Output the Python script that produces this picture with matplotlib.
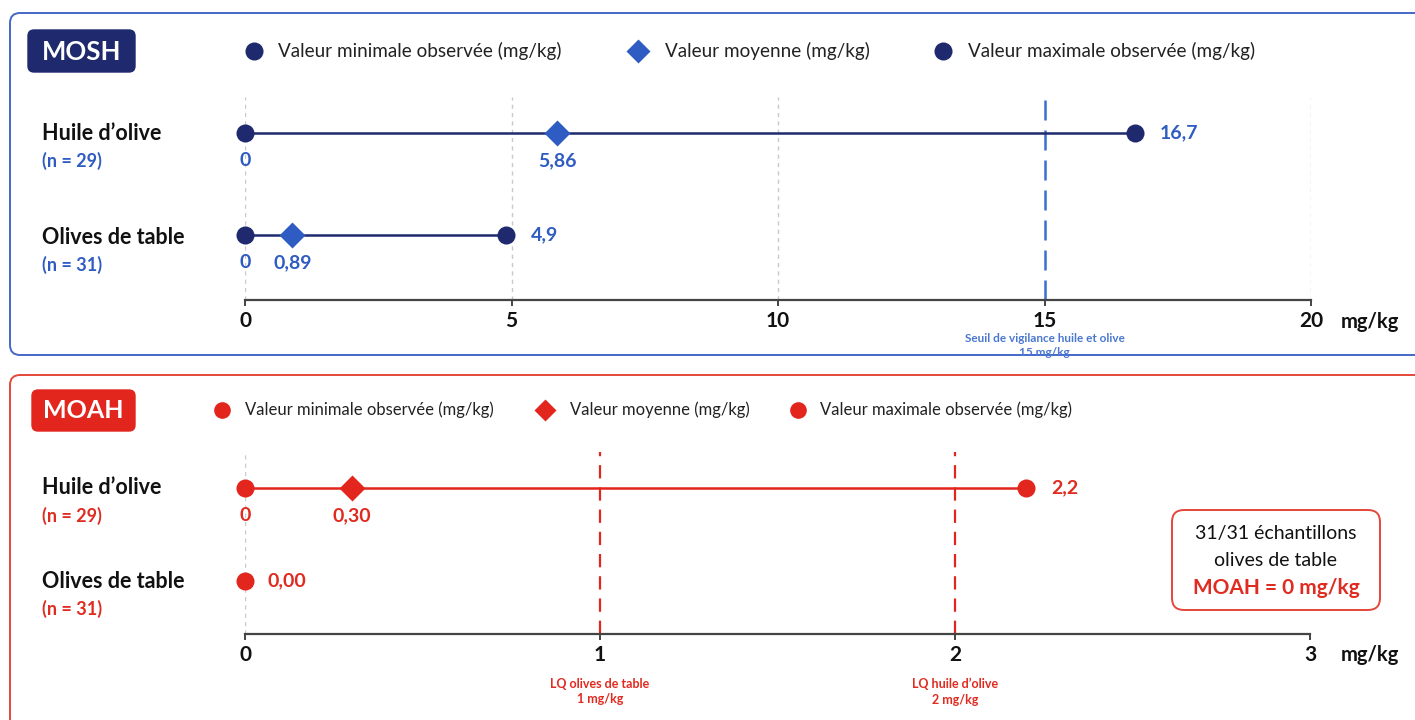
import matplotlib
matplotlib.use("Agg")
import matplotlib.pyplot as plt
from matplotlib.patches import FancyBboxPatch

plt.rcParams['font.family'] = ['Lato', 'DejaVu Sans']

# ---------------- data ----------------
categories = ["Huile d\u2019olive", "Olives de table"]
mosh_n = ["(n = 29)", "(n = 31)"]
moah_n = ["(n = 29)", "(n = 31)"]

mosh_min = [0, 0]
mosh_mean = [5.86, 0.89]
mosh_max = [16.7, 4.9]
mosh_min_lbl = ["0", "0"]
mosh_mean_lbl = ["5,86", "0,89"]
mosh_max_lbl = ["16,7", "4,9"]

moah_min = [0, 0]
moah_mean = [0.30, None]
moah_max = [2.2, None]
moah_min_lbl = ["0", "0,00"]
moah_mean_lbl = ["0,30", None]
moah_max_lbl = ["2,2", None]

mosh_ticks = [0, 5, 10, 15, 20]
moah_ticks = [0, 1, 2, 3]
mosh_threshold = 15
moah_lq = [1, 2]
mosh_threshold_lbl = "Seuil de vigilance huile et olive\n15 mg/kg"
moah_lq_lbl = ["LQ olives de table\n1 mg/kg", "LQ huile d\u2019olive\n2 mg/kg"]
legend_labels = ["Valeur minimale observ\u00e9e (mg/kg)", "Valeur moyenne (mg/kg)",
                 "Valeur maximale observ\u00e9e (mg/kg)"]
box_lines = ["31/31 \u00e9chantillons", "olives de table", "MOAH = 0 mg/kg"]

# ---------------- style ----------------
W, H = 1415, 720
NAVY = "#1f2a6e"
BLUE = "#2f5cc2"
BLUE_BORDER = "#4468c8"
RED = "#e3261d"
RED_TXT = "#e02b20"
RED_BORDER = "#e5473b"
GRID = "#c9c9c9"
AXC = "#444444"

fig = plt.figure(figsize=(W / 100, H / 100), dpi=100)
fig.patch.set_facecolor("white")

bg = fig.add_axes([0, 0, 1, 1], zorder=0)
bg.set_xlim(0, W)
bg.set_ylim(H, 0)
bg.axis("off")


def rbox(x0, y0, x1, y1, ec, fc="none", lw=1.5, r=10):
    p = FancyBboxPatch((x0, y0), x1 - x0, y1 - y0,
                       boxstyle=f"round,pad=0,rounding_size={r}",
                       ec=ec, fc=fc, lw=lw, transform=bg.transData, clip_on=False)
    bg.add_patch(p)


# panel frames
rbox(10, 13, 1440, 355, BLUE_BORDER, lw=1.4, r=10)
rbox(10, 375, 1440, 760, RED_BORDER, lw=1.4, r=10)

# badges
rbox(28, 30, 135, 72, NAVY, fc=NAVY, lw=1, r=6)
bg.text(81.5, 51.5, "MOSH", color="white", fontsize=18.5, fontweight="bold",
        ha="center", va="center")
rbox(32, 390, 135, 431, RED, fc=RED, lw=1, r=6)
bg.text(83.5, 411, "MOAH", color="white", fontsize=18, fontweight="bold",
        ha="center", va="center")


# legends
def legend_row(y, xs_mark, xs_text, colors, fs, ms):
    markers = ["o", "D", "o"]
    sizes = [ms, ms - 1, ms]
    for xm, xt, c, m, s, lab in zip(xs_mark, xs_text, colors, markers, sizes, legend_labels):
        bg.plot([xm], [y], marker=m, ms=s, color=c, mec="none", ls="none")
        bg.text(xt, y, lab, fontsize=fs, color="#222222", ha="left", va="center")


legend_row(51, [254, 638, 943], [278, 665, 968], [NAVY, BLUE, NAVY], 13.6, 13)
legend_row(410, [222, 545, 798], [245, 570, 820], [RED, RED, RED], 12, 12)


# category labels
def cat_labels(ys, ns, ncol):
    for y, name, n in zip(ys, categories, ns):
        bg.text(42, y, name, fontsize=15.5, fontweight="bold", color="#111111",
                ha="left", va="center")
        bg.text(42, y + 28, n, fontsize=13, fontweight="bold", color=ncol,
                ha="left", va="center")


cat_labels([133, 237], mosh_n, BLUE)
cat_labels([488, 581], moah_n, RED_TXT)

# unit labels
bg.text(1370, 322, "mg/kg", fontsize=14.5, fontweight="bold", color="#111111",
        ha="center", va="center")
bg.text(1370, 655, "mg/kg", fontsize=14.5, fontweight="bold", color="#111111",
        ha="center", va="center")

# summary box
rbox(1172, 510, 1380, 610, RED_BORDER, lw=1.4, r=12)
bg.text(1276, 534, box_lines[0], fontsize=14, color="#111111", ha="center", va="center")
bg.text(1276, 560, box_lines[1], fontsize=14, color="#111111", ha="center", va="center")
bg.text(1276, 588, box_lines[2], fontsize=15, fontweight="bold", color=RED_TXT,
        ha="center", va="center")


# ---------------- data axes ----------------
def make_axes(left, right, top, bottom, xmax, y_rows_px):
    ax = fig.add_axes([left / W, (H - bottom) / H, (right - left) / W, (bottom - top) / H],
                      zorder=2)
    ax.patch.set_alpha(0)
    ax.set_xlim(0, xmax)
    sp = y_rows_px[1] - y_rows_px[0]
    ax.set_ylim(-(bottom - y_rows_px[1]) / sp, 1 + (y_rows_px[0] - top) / sp)
    for s in ["top", "left", "right"]:
        ax.spines[s].set_visible(False)
    ax.spines["bottom"].set_color(AXC)
    ax.spines["bottom"].set_linewidth(1.6)
    ax.set_yticks([])
    ax.tick_params(axis="x", direction="out", length=4, width=1.4, color=AXC,
                   pad=4, labelsize=15, labelcolor="#111111")
    return ax


def draw_rows(ax, mins, means, maxs, min_l, mean_l, max_l, line_c, end_c, mean_c, txt_c,
              below_off=-20):
    rows_y = [1, 0]
    fs = 14
    for y, mn, me, mx, l1, l2, l3 in zip(rows_y, mins, means, maxs, min_l, mean_l, max_l):
        if mx is not None:
            ax.plot([mn, mx], [y, y], color=line_c, lw=1.8, zorder=3, solid_capstyle="butt")
            ax.plot([mn, mx], [y, y], marker="o", ms=13, color=end_c, ls="none", zorder=4,
                    mec="none", clip_on=False)
            ax.annotate(l3, (mx, y), xytext=(18, 0), textcoords="offset points",
                        ha="left", va="center", fontsize=fs, fontweight="bold", color=txt_c)
            ax.annotate(l1, (mn, y), xytext=(0, below_off), textcoords="offset points",
                        ha="center", va="center", fontsize=fs, fontweight="bold", color=txt_c)
        else:
            ax.plot([mn], [y], marker="o", ms=13, color=end_c, ls="none", zorder=4,
                    mec="none", clip_on=False)
            ax.annotate(l1, (mn, y), xytext=(16, 0), textcoords="offset points",
                        ha="left", va="center", fontsize=fs, fontweight="bold", color=txt_c)
        if me is not None:
            ax.plot([me], [y], marker="D", ms=13, color=mean_c, ls="none", zorder=5,
                    mec="none")
            ax.annotate(l2, (me, y), xytext=(0, below_off), textcoords="offset points",
                        ha="center", va="center", fontsize=fs, fontweight="bold", color=txt_c)


# MOSH
ax1 = make_axes(245, 1311, 97, 300, 20, [133, 235])
ax1.set_xticks(mosh_ticks)
ax1.set_xticklabels([str(t) for t in mosh_ticks], fontweight="bold")
for t in mosh_ticks:
    if t != mosh_threshold:
        ax1.axvline(t, color=GRID, lw=1, ls=(0, (3, 3)), zorder=1)
ax1.axvline(mosh_threshold, color="#3a6fd0", lw=1.8, ls=(0, (8, 4)), zorder=2)
ax1.text(mosh_threshold, -0.165, mosh_threshold_lbl, transform=ax1.get_xaxis_transform(),
         ha="center", va="top", fontsize=8.5, fontweight="bold", color="#4a78d0",
         linespacing=1.3)
draw_rows(ax1, mosh_min, mosh_mean, mosh_max, mosh_min_lbl, mosh_mean_lbl, mosh_max_lbl,
          NAVY, NAVY, BLUE, BLUE)

# MOAH
ax2 = make_axes(245, 1310, 452, 634, 3, [488, 581])
ax2.set_xticks(moah_ticks)
ax2.set_xticklabels([str(t) for t in moah_ticks], fontweight="bold")
ax2.axvline(0, color=GRID, lw=1, ls=(0, (3, 3)), zorder=1)
for v, lab in zip(moah_lq, moah_lq_lbl):
    ax2.axvline(v, color=RED, lw=1.6, ls=(0, (6, 4)), zorder=2)
    ax2.text(v, -0.24, lab, transform=ax2.get_xaxis_transform(), ha="center", va="top",
             fontsize=9, fontweight="bold", color=RED_TXT, linespacing=1.35)
draw_rows(ax2, moah_min, moah_mean, moah_max, moah_min_lbl, moah_mean_lbl, moah_max_lbl,
          RED, RED, RED, RED_TXT)

fig.savefig("out.png", dpi=100, facecolor="white")
